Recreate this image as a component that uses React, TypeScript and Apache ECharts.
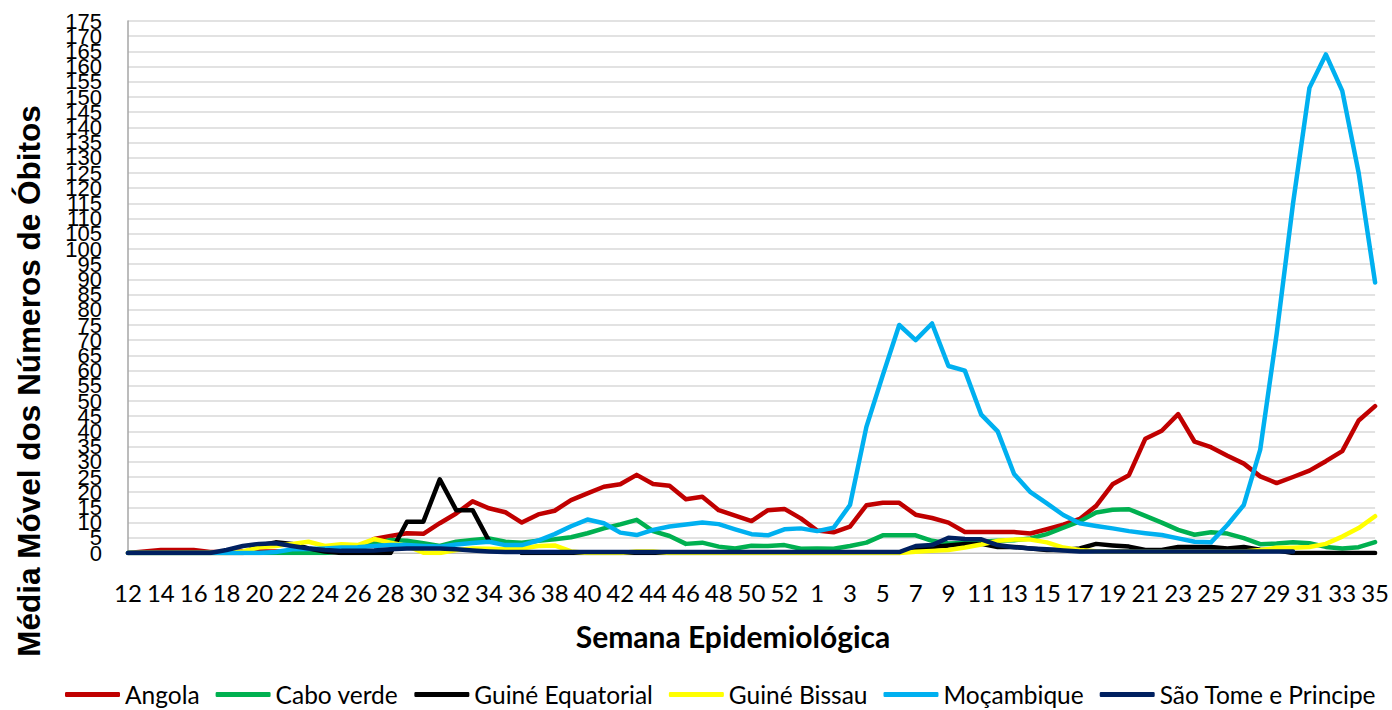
import React, { useEffect, useRef } from "react";
import * as echarts from "echarts";

const weeks = [
  "12","13","14","15","16","17","18","19","20","21","22","23","24","25","26","27","28","29","30","31",
  "32","33","34","35","36","37","38","39","40","41","42","43","44","45","46","47","48","49","50","51",
  "52","53","1","2","3","4","5","6","7","8","9","10","11","12","13","14","15","16","17","18","19",
  "20","21","22","23","24","25","26","27","28","29","30","31","32","33","34","35"
];

const yMin = 0;
const yMax = 175;
const yStep = 5;

const angola = [
  0,0.5,1,1,1,0.3,0.3,0.5,0.5,0.5,0.5,0.5,0.5,1,1.5,4.6,5.6,6.5,6.3,9.8,
  13,17,14.7,13.4,10,12.7,13.9,17.4,19.6,21.8,22.6,25.7,22.7,22.1,17.7,18.5,14.1,12.3,10.5,14.1,
  14.5,11.4,7.4,6.8,8.7,15.7,16.5,16.5,12.6,11.5,10,6.9,6.9,6.9,6.9,6.4,7.8,9.3,11.2,15.5,22.6,
  25.6,37.6,40.2,45.7,36.6,34.8,32,29.4,25.2,23,25,27.1,30.2,33.5,43.6,48.3
];

const caboVerde = [
  0,0,0,0,0,0,0,0,0,0,0,0,0,0.5,1.5,3,4.3,4,3.2,2.3,
  3.7,4.3,4.8,3.7,3.4,4,4.5,5.2,6.5,8.1,9.4,10.9,7.2,5.6,3,3.4,2.1,1.5,2.4,2.3,
  2.6,1.4,1.5,1.4,2.3,3.4,5.8,5.8,5.8,4,3.1,3.3,3.7,4,4.2,4.8,6.2,8.3,10.4,13.3,14.2,
  14.4,12.2,10,7.6,6,6.8,6.4,4.9,2.9,3.1,3.5,3.2,2,1.5,1.9,3.6
];

const guineEquatorial = [
  0,0,0,0,0,0,0,0,2.5,3.5,3,1.5,0.5,0,0,0,0,10.3,10.3,24.2,
  14.1,14.1,4,null,0,0,0,0,0,0,0,0,0,0,0,0,0,0,0,0,
  0,0,0,0,0,0,0,0,1.5,2,2.5,3,3,2,2,1.5,1,1,1.5,3,2.5,
  2.1,1,1,2,2,2,1.5,2,1.1,0.9,0,0,0,0,0,0
];

const guineBissau = [
  0,0,0,0,0,0,0,0.5,1.9,2.3,3,3.7,2.3,2.9,2.6,4.6,3.4,2.3,0.1,0,
  1,1.5,1.4,1.2,1.5,2.3,2.5,0.5,0,0,0,0.5,0.5,0,0,0,0,0,0,0,
  0,0,0,0,0,0,0,0,0.4,0.7,1,1.8,2.8,4,4.4,4.4,3.5,1.8,1,0.6,0.5,
  0.5,0.5,0.5,0.5,0.5,0.5,0.5,0.5,1,1.7,1.7,2,3,5.4,8.2,12.1
];

const mocambique = [
  0,0,0,0,0,0,0,0,0,0.3,1.2,1.3,1.5,1.8,1.9,2.3,2.6,2.6,2.3,2.1,
  2.8,3.3,3.7,2.6,2.6,4.1,6.2,8.8,11,9.8,6.7,5.9,7.6,8.7,9.4,10,9.5,7.8,6.2,5.8,
  7.8,8.1,7.2,8.3,15.8,41.5,58.5,75,70,75.5,61.5,60,45.5,40,26,20,16.3,12.5,9.8,8.9,8.1,
  7.2,6.5,5.9,4.8,3.7,3.5,9.2,15.8,34,72,115,153,164,152,125,89
];

const saoTome = [
  0,0,0,0,0,0,1,2.3,3,3.2,2.3,1.5,1,0.7,0.7,0.8,1.2,1.5,1.5,1.5,
  1.2,0.8,0.5,0.3,0.3,0.3,0.3,0.3,0.3,0.3,0.3,0.3,0.3,0.3,0.3,0.3,0.3,0.3,0.3,0.3,
  0.3,0.3,0.3,0.3,0.3,0.3,0.3,0.3,2.3,2.6,5,4.6,4.5,2.6,1.9,1.5,1.2,0.8,0.5,0.5,0.5,
  0.5,0.5,0.5,0.5,0.5,0.5,0.5,0.5,0.5,0.5,0.5,null,null,null,null,null
];

const seriesNames = [
  "Angola",
  "Cabo verde",
  "Guiné Equatorial",
  "Guiné Bissau",
  "Moçambique",
  "São Tome e Principe",
];
const seriesColors = ["#C00000", "#00B050", "#000000", "#FFFF00", "#00B0F0", "#002060"];
const seriesData = [angola, caboVerde, guineEquatorial, guineBissau, mocambique, saoTome];

const yLabelStyle = {
  color: "#000",
  fontFamily: "Liberation Sans",
  fontSize: 22,
  margin: 26,
};

export default function App() {
  const ref = useRef<HTMLDivElement>(null);
  useEffect(() => {
    const chart = echarts.init(ref.current as HTMLDivElement, null, { renderer: "svg" });
    chart.setOption({
      animation: false,
      backgroundColor: "#ffffff",
      grid: { left: 128, right: 14, top: 21, bottom: 157, containLabel: false },
      xAxis: {
        type: "category",
        data: weeks,
        boundaryGap: false,
        axisLine: { show: true, lineStyle: { color: "#bfbfbf", width: 1 } },
        axisTick: { show: false },
        axisLabel: {
          interval: 1,
          color: "#000",
          fontFamily: "Lato",
          fontSize: 24,
          margin: 27,
        },
        splitLine: { show: false },
      },
      yAxis: [
        {
          type: "value",
          min: yMin,
          max: yMax,
          interval: yStep,
          position: "left",
          axisLine: { show: true, lineStyle: { color: "#a6a6a6", width: 1.5 } },
          axisTick: { show: false },
          axisLabel: { ...yLabelStyle, showMinLabel: false, showMaxLabel: false },
          splitLine: { show: true, lineStyle: { color: "#d9d9d9", width: 1.5 } },
        },
        {
          type: "value",
          min: yMin,
          max: yMax,
          interval: yStep,
          position: "left",
          offset: 0,
          axisLine: { show: false },
          axisTick: { show: false },
          splitLine: { show: false },
          axisLabel: {
            ...yLabelStyle,
            showMinLabel: true,
            showMaxLabel: true,
            formatter: (v: number) => (v === yMin || v === yMax ? String(v) : ""),
          },
        },
      ],
      legend: {
        data: seriesNames,
        left: 60,
        top: 677,
        icon: "roundRect",
        itemWidth: 55,
        itemHeight: 5,
        itemGap: 16,
        textStyle: { color: "#000", fontFamily: "Lato", fontSize: 24.5 },
      },
      graphic: [
        {
          type: "text",
          x: 733,
          y: 636,
          style: {
            text: "Semana Epidemiológica",
            fontFamily: "Lato",
            fontWeight: "bold",
            fontSize: 30,
            fill: "#000",
            align: "center",
            verticalAlign: "middle",
          },
        },
        {
          type: "text",
          x: 29,
          y: 381,
          rotation: Math.PI / 2,
          style: {
            text: "Média Móvel dos Números de Óbitos",
            fontFamily: "Liberation Sans",
            fontWeight: "bold",
            fontSize: 31.5,
            fill: "#000",
            align: "center",
            verticalAlign: "middle",
          },
        },
      ],
      series: seriesNames.map((name, k) => ({
        name,
        type: "line",
        yAxisIndex: 0,
        data: seriesData[k],
        symbol: "none",
        showSymbol: false,
        connectNulls: false,
        itemStyle: { color: seriesColors[k] },
        lineStyle: { color: seriesColors[k], width: 4.5, cap: "round", join: "round" },
        emphasis: { disabled: true },
        z: 2 + k,
      })),
    });
    return () => chart.dispose();
  }, []);
  return (
    <div
      ref={ref}
      style={{ position: "fixed", left: 0, top: 0, width: 1392, height: 710, background: "#fff" }}
    />
  );
}
